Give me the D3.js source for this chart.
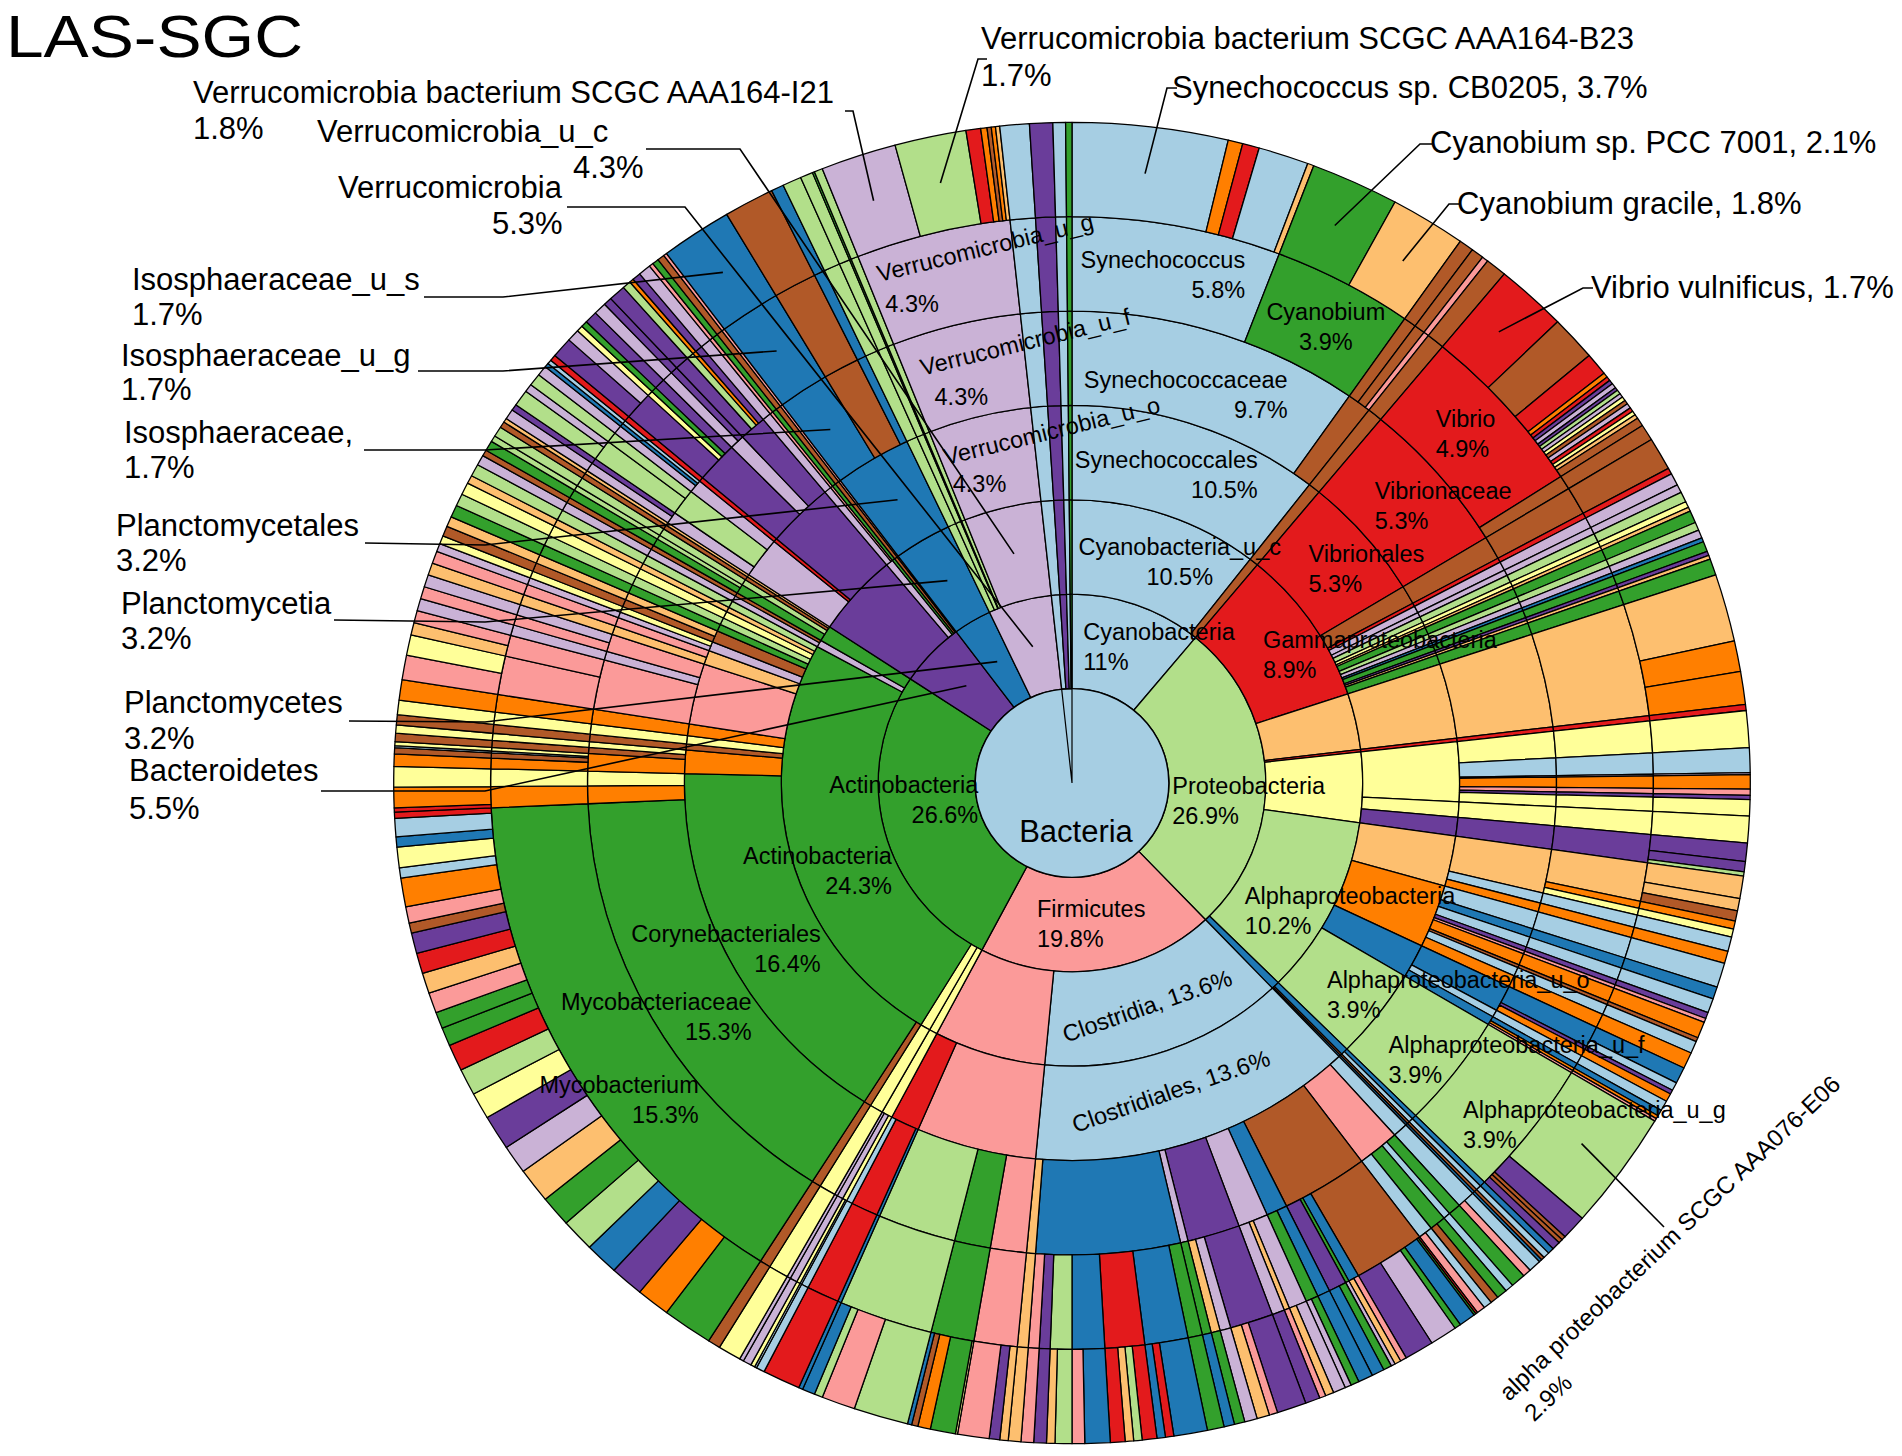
<!DOCTYPE html>
<html><head><meta charset="utf-8">
<script src="https://cdn.jsdelivr.net/npm/d3@7/dist/d3.min.js"></script>
<style>
html,body{margin:0;padding:0;background:#fff;}
svg{display:block;}
text{font-family:"Liberation Sans",Arial,Helvetica,sans-serif;fill:#000;}
</style></head><body>
<svg id="chart" width="1902" height="1456"></svg>
<script>
// ---------- palette ----------
const paletteKeys   = ["LB","B","LG","G","PK","R","LO","O","LP","P","Y","BR"];
const paletteColors = ["#a6cee3","#1f78b4","#b2df8a","#33a02c","#fb9a99","#e31a1c","#fdbf6f","#ff7f00","#cab2d6","#6a3d9a","#ffff99","#b15928"];

// ---------- data: [name, colour key, value | children]  (values in % of reads) ----------
const cyanobacteria = ["Cyanobacteria","LB",[
  ["Cyanobacteria_u_c","LB",[
    ["Synechococcales","LB",[
      ["Synechococcaceae","LB",[
        ["Synechococcus","LB",[
          ["Synechococcus sp. CB0205","LB",3.7],["","O",0.35],["","R",0.4],["","LB",1.2],["","LO",0.15]
        ]],
        ["Cyanobium","G",[
          ["Cyanobium sp. PCC 7001","G",2.1],["Cyanobium gracile","LO",1.8]
        ]]
      ]],
      ["","BR",[["","BR",0.35],["","BR",0.3],["","PK",0.15]]]
    ]]
  ]],
  ["","BR",0.5]
]];

const proteobacteria = ["Proteobacteria","LG",[
  ["Gammaproteobacteria","R",[
    ["Vibrionales","R",[
      ["Vibrionaceae","R",[
        ["Vibrio","R",[
          ["Vibrio vulnificus","R",1.7],["","BR",1.1],["","R",0.55],["","O",0.12],["","R",0.1],["","P",0.1],
          ["","LP",0.12],["","P",0.08],["","LG",0.1],["","LP",0.1],["","Y",0.1],["","BR",0.1],
          ["","LP",0.12],["","R",0.1],["","Y",0.1],["","LO",0.1],["","BR",0.21]
        ]],
        ["","BR",0.4]
      ]]
    ]],
    ["","BR",0.8],["","R",0.15],["","LP",0.3],["","LP",0.2],["","LG",0.25],["","Y",0.15],["","LO",0.1],
    ["","G",0.3],["","LG",0.2],["","LP",0.2],["","B",0.1],["","G",0.25],["","P",0.1],["","LO",0.1],["","G",0.4]
  ]],
  ["","LO",[["","LO",[["","LO",[["","LO",[["","LO",1.65],["","O",0.75],["","O",0.8]]]]]]]]],
  ["","R",0.15],
  ["","Y",[
    ["","Y",[["","Y",0.9],["","LB",0.6],["","LP",0.05],["","O",0.35],["","PK",0.15],["","P",0.1],["","Y",0.4]]],
    ["","Y",0.65],
    ["","P",[["","P",[["","P",[["","P",0.45],["","P",0.25],["","LG",0.1]]]]]]]
  ]],
  ["Alphaproteobacteria","LG",[
    ["","LO",[
      ["","LO",[["","LO",[["","LO",0.55],["","LO",0.3],["","BR",0.25]]],["","O",0.2],["","Y",0.2]]],
      ["","LB",0.35],
      ["","O",0.3]
    ]],
    ["","O",[["","LB",0.6],["","B",0.3],["","LB",0.35],["","P",0.15],["","PK",0.1],["","O",0.4],["","BR",0.1],["","LB",0.3],["","O",0.4]]],
    ["","B",[
      ["","B",[["","B",[["","B",0.4],["","LB",0.2]]],["","P",0.1],["","O",0.2]]],
      ["","LB",0.25],
      ["","B",[["","B",0.15],["","O",0.08],["","PK",0.07]]]
    ]],
    ["Alphaproteobacteria_u_o","LG",[["Alphaproteobacteria_u_f","LG",[["Alphaproteobacteria_u_g","LG",[
      ["alpha proteobacterium SCGC AAA076-E06","LG",2.9],["","P",0.6],["","BR",0.1],["","BR",0.1],["","P",0.2]
    ]]]]]]
  ]],
  ["","B",[["","B",[["","B",0.15],["","LB",0.15]]],["","BR",0.08],["","B",0.07]]]
]];

const firmicutes = ["Firmicutes","PK",[
  ["Clostridia","LB",[["Clostridiales","LB",[
    ["","LB",[["","LB",[["","LB",0.3],["","PK",0.2]]]]],
    ["","PK",[["","G",0.35],["","LB",0.2],["","G",[["","G",0.25],["","BR",0.2]]],["","LB",[["","LB",0.2],["","PK",0.2]]]]],
    ["","BR",[["","BR",[["","R",0.05],["","G",0.05],["","B",0.4],["","G",0.15],["","LP",0.65],["","P",0.7]]],["","B",[["","PK",0.15],["","LO",0.15]]],["","G",[["","LP",0.1]]],["","P",[["","G",0.2],["","B",0.3]]]]],
    ["","B",[["","B",0.35],["","G",[["","G",0.2],["","LP",0.15]]]]],
    ["","LP",[["","LP",[["","LP",0.3],["","LO",0.2]]],["","LO",[["","PK",0.15]]],["","LP",[["","P",0.35]]]]],
    ["","P",[["","P",[["","P",0.7],["","PK",0.2],["","LO",0.3]]],["","LP",0.3],["","LO",[["","G",0.25]]]]],
    ["","LP",[["","G",[["","B",0.25]]]]],
    ["","B",[["","G",0.4],["","B",[["","B",0.8],["","R",0.2],["","B",0.2]]],["","R",[["","R",0.35],["","LG",0.2],["","LO",0.2],["","R",0.35]]],["","B",[["","B",0.6],["","PK",0.3]]],["","LG",[["","LG",0.4],["","LO",0.2]]],["","P",0.3],["","PK",0.3]]],
    ["","LO",0.3]
  ]]]],
  ["","PK",[
    ["","PK",[
      ["","PK",[["","PK",[["","LO",0.2],["","P",0.25],["","PK",0.75]]]]],
      ["","G",[["","G",[["","Y",0.05],["","G",0.6],["","O",0.3],["","BR",0.15],["","B",0.1]]]]],
      ["","LG",[["","LG",[["","LG",1.3],["","PK",0.8],["","LG",0.2],["","B",0.3]]]]]
    ]],
    ["","R",[["","B",0.1],["","R",0.9],["","LB",0.2]]]
  ]]
]];

const actinobacteria = ["Actinobacteria","G",[
  ["","Y",[["","Y",[["","Y",[["","LB",0.05],["","Y",0.1]]],["","LP",0.2],["","LP",0.1]]]]],
  ["","Y",0.55],
  ["Actinobacteria","G",[
    ["","BR",0.3],
    ["Corynebacteriales","G",[
      ["Mycobacteriaceae","G",[["Mycobacterium","G",[
        ["","G",1.2],["","O",0.8],["","P",0.8],["","B",0.8],["","LG",0.8],["","G",0.75],
        ["","LO",0.85],["","LP",0.7],["","P",0.85],["","Y",0.65],["","LG",0.65],["","R",0.65],
        ["","G",0.45],["","G",0.4],["","PK",0.5],["","LO",0.5],["","R",0.5],["","P",0.5],
        ["","BR",0.25],["","PK",0.4],["","O",0.7],["","LB",0.25],["","Y",0.5],["","B",0.25],["","LB",0.45],["","R",0.15]
      ]]]],
      ["","O",[["","O",[["","R",0.1],["","O",0.5]]]]],
      ["","Y",0.5]
    ]],
    ["","O",[["","O",[["","O",0.3],["","BR",0.15],["","LB",0.05],["","Y",0.1]]],["","BR",0.2],["","Y",0.2]]],
    ["","BR",0.25],["","Y",0.35],["","O",0.5],
    ["","PK",[["","PK",[["","PK",[["","PK",0.6],["","Y",0.5]]],["","PK",[["","LO",0.3],["","PK",0.3]]]]],["","LP",0.3],["","PK",[["","PK",0.3],["","LP",0.3]]]]],
    ["","LO",[["","LO",0.3],["","PK",0.3]]],
    ["","LP",[["","LP",0.2],["","Y",0.2]]],
    ["","BR",[["","BR",0.25],["","LO",0.25]]],
    ["","G",0.3],["","LG",0.3],["","Y",0.3],["","LO",0.2],["","LG",0.3]
  ]],
  ["","LP",[["","LP",0.25],["","BR",0.15]]],
  ["","G",[["","G",[["","G",0.25],["","LG",0.15]]],["","LG",0.25],["","BR",0.15],["","LO",0.1]]]
]];

const bacteroidetes = ["Bacteroidetes","P",[
  ["","P",[
    ["","LP",[
      ["","LP",[["","LP",0.25],["","P",0.15]]],
      ["","LG",[["","LG",[["","LG",0.4],["","LP",0.2]]],["","LG",0.3]]],
      ["","LP",[["","LP",0.25],["","B",0.1],["","LB",0.1]]]
    ]],
    ["","R",0.15],
    ["","P",[
      ["","P",[["","P",[["","P",0.5],["","LP",0.3]]],["","Y",0.15],["","G",0.15],["","P",0.3]]],
      ["","LP",[["","LP",0.3],["","P",0.2]]],
      ["","P",[["","P",0.4],["","LG",0.2],["","O",0.1],["","P",0.2]]]
    ]]
  ]],
  ["","LP",[["","LP",0.3],["","PK",0.1]]],
  ["","G",0.15],["","BR",0.17],["","PK",0.08]
]];

const planctomycetes = ["Planctomycetes","B",[["Planctomycetia","B",[["Planctomycetales","B",[
  ["Isosphaeraceae","B",[["Isosphaeraceae_u_g","B",[["Isosphaeraceae_u_s","B",1.7]]]]],
  ["","BR",1.2],
  ["","B",0.3]
]]]]]];

const verrucomicrobia = ["Verrucomicrobia","LP",[
  ["","LG",0.45],["","LG",0.3],["","G",0.05],["","LG",0.2],
  ["Verrucomicrobia_u_c","LP",[["Verrucomicrobia_u_o","LP",[["Verrucomicrobia_u_f","LP",[["Verrucomicrobia_u_g","LP",[
    ["Verrucomicrobia bacterium SCGC AAA164-I21","LP",1.8],["Verrucomicrobia bacterium SCGC AAA164-B23","LG",1.7],
    ["","R",0.35],["","O",0.15],["","BR",0.1],["","O",0.1],["","LO",0.1]
  ]]]]]]]]
]];

const minorPhyla = [["","LB",0.7],["","P",0.55],["","LB",0.3],["","G",0.15]];

// ---------- label layout (offsets from segment centroid, px) ----------
const innerLabelLayout = [
  ["Cyanobacteria",1,-38,-10,"start","s"],
  ["Proteobacteria",1,-45,16,"start","s"],
  ["Firmicutes",1,-55,-6,"start","s"],
  ["Actinobacteria",1,47,-25,"end","e"],
  ["Cyanobacteria_u_c",2,-72,-5,"start","m"],
  ["Gammaproteobacteria",2,-9,-2,"start","s"],
  ["Alphaproteobacteria",2,-44,16,"start","s"],
  ["Actinobacteria",2,54,20,"end","e"],
  ["Synechococcales",3,-107,-2,"start","e"],
  ["Vibrionales",3,-20,-5,"start","s"],
  ["Alphaproteobacteria_u_o",3,-13,3,"start","s"],
  ["Corynebacteriales",3,48,4,"end","e"],
  ["Synechococcaceae",4,-119,10,"start","e"],
  ["Vibrionaceae",4,-27,-6,"start","s"],
  ["Alphaproteobacteria_u_f",4,-28,10,"start","s"],
  ["Mycobacteriaceae",4,57,14,"end","e"],
  ["Synechococcus",5,-88,-5,"start","e"],
  ["Cyanobium",5,-55,-4,"start","m"],
  ["Vibrio",5,-35,-11,"start","s"],
  ["Alphaproteobacteria_u_g",5,-30,17,"start","s"],
  ["Mycobacterium",5,88,50,"end","e"]
];
const arcLabelLayout = [["Clostridia",2,-4,0],["Clostridiales",3,-12,-4]];
const tiltLabelLayout = [
  ["Verrucomicrobia_u_o",3,-45,3,-38,30],
  ["Verrucomicrobia_u_f",4,-45,5,-33,34],
  ["Verrucomicrobia_u_g",5,-65,3,-59,33]
];
const outerLabelLayout = [
  ["Verrucomicrobia bacterium SCGC AAA164-I21",6,"two",193,103,193,139,[[845,111],[853,111]]],
  ["Verrucomicrobia_u_c",2,"two",317,142,573,178,[[646,149],[740,149]]],
  ["Verrucomicrobia",1,"two",338,198,492,234,[[567,207],[685,207]]],
  ["Isosphaeraceae_u_s",6,"two",132,290,132,325,[[424,297],[503,297]]],
  ["Isosphaeraceae_u_g",5,"two",121,366,121,400,[[418,371],[503,371]]],
  ["Isosphaeraceae",4,"twoComma",124,443,124,478,[[364,450],[485,450]]],
  ["Planctomycetales",3,"two",116,536,116,571,[[365,543],[485,545]]],
  ["Planctomycetia",2,"two",121,614,121,649,[[334,620],[485,622]]],
  ["Planctomycetes",1,"two",124,713,124,749,[[349,721],[485,722]]],
  ["Bacteroidetes",1,"two",129,781,129,819,[[321,791],[485,791]]],
  ["Verrucomicrobia bacterium SCGC AAA164-B23",6,"two",981,49,981,86,[[987,59],[978,59]]],
  ["Synechococcus sp. CB0205",6,"one",1172,98,0,0,[[1177,88],[1167,88]]],
  ["Cyanobium sp. PCC 7001",6,"one",1430,153,0,0,[[1432,144],[1420,144]]],
  ["Cyanobium gracile",6,"one",1457,214,0,0,[[1459,204],[1449,204]]],
  ["Vibrio vulnificus",6,"one",1591,298,0,0,[[1593,288],[1583,288]]]
];
const rotatedOuterLayout = [["alpha proteobacterium SCGC AAA076-E06",6,1509,1402,-43.5,24,[1664,1227]]];

// ---------- build ----------
const W=1902, H=1456, cx=1072, cy=783, unit=96.9, sy=0.974;
const svg = d3.select("#chart");
svg.append("rect").attr("width",W).attr("height",H).attr("fill","#fff");
const color = d3.scaleOrdinal().domain(paletteKeys).range(paletteColors);

function toNode(a){ return Array.isArray(a[2]) ? {name:a[0], col:a[1], children:a[2].map(toNode)} : {name:a[0], col:a[1], value:a[2]}; }
const rootData = {name:"Bacteria", col:"LB",
  children:[cyanobacteria, proteobacteria, firmicutes, actinobacteria, bacteroidetes, planctomycetes, verrucomicrobia, ...minorPhyla].map(toNode)};
(function extend(n, depth){
  if(n.children) n.children.forEach(c=>extend(c, depth+1));
  else if(depth<6){ n.children=[{name:"", col:n.col, value:n.value}]; delete n.value; extend(n.children[0], depth+1); }
})(rootData, 0);

const root = d3.hierarchy(rootData).sum(d=>d.value||0);
d3.partition().size([2*Math.PI, 7])(root);

const arc = d3.arc().startAngle(d=>d.x0).endAngle(d=>d.x1)
  .innerRadius(d=>d.y0*unit).outerRadius(d=>d.y1*unit);

const g = svg.append("g").attr("transform",`translate(${cx},${cy}) scale(1,${sy})`);
g.selectAll("path.seg").data(root.descendants().filter(d=>d.depth>0)).join("path")
  .attr("class","seg").attr("d",arc).attr("fill",d=>color(d.data.col))
  .attr("stroke","#000").attr("stroke-width",1.3).attr("stroke-linejoin","round");
g.append("path").datum(root).attr("d",arc).attr("fill",color(root.data.col)).attr("stroke","#000").attr("stroke-width",1.5);
const minors = root.children.slice(-minorPhyla.length);
g.append("path").datum({x0:minors[0].x0, x1:minors[minors.length-1].x1, y0:0, y1:1}).attr("d",arc)
  .attr("fill","none").attr("stroke","#000").attr("stroke-width",1.2);

// ---------- labels ----------
function pos(d, r){ const a=(d.x0+d.x1)/2; if(r===undefined) r=(d.y0+d.y1)/2*unit; return [cx + r*Math.sin(a), cy - r*Math.cos(a)*sy]; }
function findNode(name, depth){ return root.descendants().find(d=>d.depth===depth && d.data.name===name); }
const pct = d => (Math.round(d.value*10)/10) + "%";
const lab = svg.append("g");
const FS=23.5, FO=31;

svg.append("text").attr("x",6).attr("y",57).attr("font-size",60).attr("textLength",297)
  .attr("lengthAdjust","spacingAndGlyphs").text("LAS-SGC");

lab.append("text").attr("x",cx+4).attr("y",cy+59).attr("text-anchor","middle").attr("font-size",31).text(root.data.name);

innerLabelLayout.forEach(([name, depth, dx, dy, anchor, l2])=>{
  const d=findNode(name, depth); if(!d) return;
  const [x,y]=pos(d); const x1=x+dx, y1=y+dy;
  const t1=lab.append("text").attr("x",x1).attr("y",y1).attr("text-anchor",anchor).attr("font-size",FS).text(name);
  const w=t1.node().getComputedTextLength();
  let x2=x1, a2=anchor;
  if(anchor==="start"){ if(l2==="e"){x2=x1+w; a2="end";} else if(l2==="m"){x2=x1+w/2; a2="middle";} }
  lab.append("text").attr("x",x2).attr("y",y1+30).attr("text-anchor",a2).attr("font-size",FS).text(pct(d));
});

arcLabelLayout.forEach(([name, depth, dx, dy])=>{
  const d=findNode(name, depth); const [x,y]=pos(d);
  const ang=((d.x0+d.x1)/2)*180/Math.PI-180;
  lab.append("text").attr("transform",`translate(${x+dx},${y+dy}) rotate(${ang})`)
    .attr("text-anchor","middle").attr("dy","0.35em").attr("font-size",FS).text(name+", "+pct(d));
});

tiltLabelLayout.forEach(([name, depth, dx, dy, px, py])=>{
  const d=findNode(name, depth); const [x,y]=pos(d);
  const ang=((d.x0+d.x1)/2)*180/Math.PI-360;
  lab.append("text").attr("transform",`translate(${x+dx},${y+dy}) rotate(${ang})`).attr("font-size",FS).text(name);
  lab.append("text").attr("x",x+px).attr("y",y+py).attr("font-size",FS).text(pct(d));
});

const line = d3.line();
outerLabelLayout.forEach(([name, depth, mode, x1, y1, x2, y2, pts])=>{
  const d=findNode(name, depth); if(!d) return;
  lab.append("path").attr("d",line([...pts, pos(d)])).attr("fill","none").attr("stroke","#000").attr("stroke-width",1.6);
  if(mode==="one"){
    lab.append("text").attr("x",x1).attr("y",y1).attr("font-size",FO).text(name+", "+pct(d));
  } else {
    lab.append("text").attr("x",x1).attr("y",y1).attr("font-size",FO).text(name+(mode==="twoComma"?",":""));
    lab.append("text").attr("x",x2).attr("y",y2).attr("font-size",FO).text(pct(d));
  }
});

rotatedOuterLayout.forEach(([name, depth, x, y, rot, fs, lead])=>{
  const d=findNode(name, depth);
  lab.append("path").attr("d",line([pos(d), lead])).attr("fill","none").attr("stroke","#000").attr("stroke-width",1.6);
  const t=lab.append("text").attr("transform",`translate(${x},${y}) rotate(${rot})`).attr("font-size",fs);
  t.append("tspan").attr("x",0).attr("y",0).text(name);
  t.append("tspan").attr("x",4).attr("y",32).text(pct(d));
});
</script>
</body></html>
